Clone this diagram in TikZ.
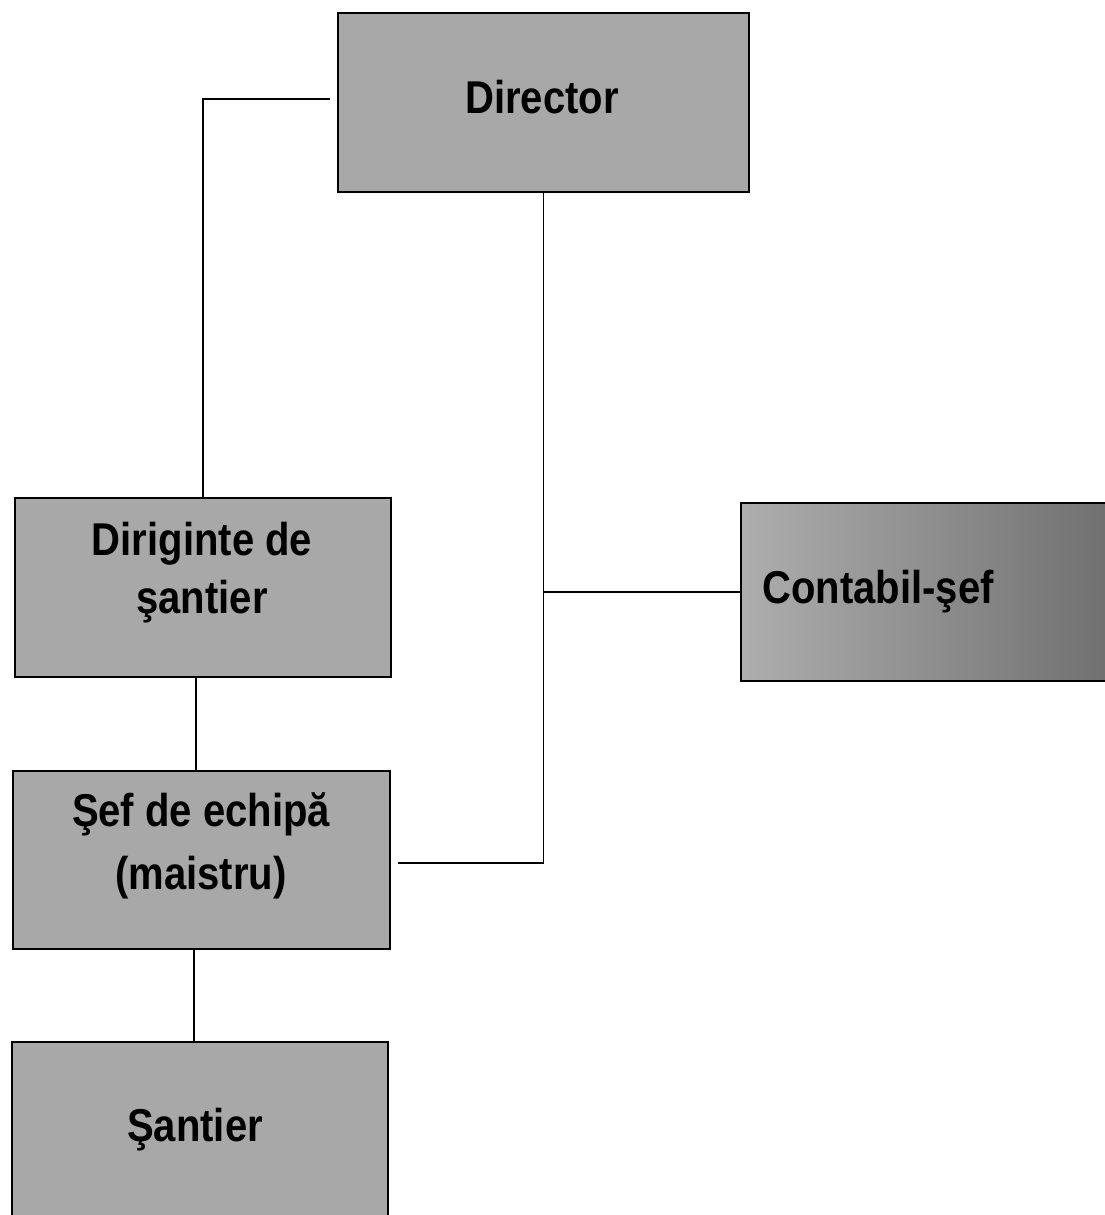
\documentclass[tikz,border=0pt]{standalone}
\usepackage{fontspec}
\setmainfont{Liberation Sans}[FakeStretch=0.87]
\definecolor{boxgray}{gray}{0.66}
\definecolor{contleft}{gray}{0.68}
\definecolor{contright}{gray}{0.42}
\begin{document}
\begin{tikzpicture}[x=1pt,y=-1pt,
  box/.style={draw=black, line width=1.8pt, fill=boxgray, inner sep=0pt, anchor=north west},
  lbl/.style={font=\fontsize{46}{58}\selectfont\bfseries, align=center, inner sep=0pt, anchor=north},
  link/.style={draw=black, line width=1.7pt}]
\useasboundingbox (0,0) rectangle (1105,1215);
\clip (0,0) rectangle (1105,1215);
\fill[white] (0,0) rectangle (1105,1215);
% boxes
\node[box, minimum width=411pt, minimum height=179pt] (dir) at (337,12) {};
\node[box, minimum width=376pt, minimum height=179pt] (dirig) at (14,497) {};
\node[box, minimum width=400pt, minimum height=178pt, fill=none, left color=contleft, right color=contright] (cont) at (740,502) {};
\node[box, minimum width=377pt, minimum height=178pt] (sef) at (12,770) {};
\node[box, minimum width=376pt, minimum height=185pt] (sant) at (11,1041) {};
% labels
\node[lbl] (dirT) at (542,80) {Director};
\node[lbl] (dirigT) at (202,522) {Diriginte de\\şantier};
\node[lbl] (contT) at (878,570) {Contabil-şef};
\node[lbl] (sefT) at (201,792) {Şef de echipă\\[5pt](maistru)};
\node[lbl] (santT) at (195,1108) {Şantier};
% connectors
\draw[link, shorten <=7pt] ([yshift=3.5pt]dir.west) -| (dirig.north);
\draw[link, shorten >=7pt] (dir.south) |- ([yshift=-3pt]sef.east);
\draw[link] (cont.west) -- (cont.west -| dir.south);
\draw[link] ([xshift=-7pt]dirig.south) -- ([xshift=-7pt]dirig.south |- sef.north);
\draw[link] ([xshift=-7.5pt]sef.south) -- ([xshift=-7.5pt]sef.south |- sant.north);
\end{tikzpicture}
\end{document}
